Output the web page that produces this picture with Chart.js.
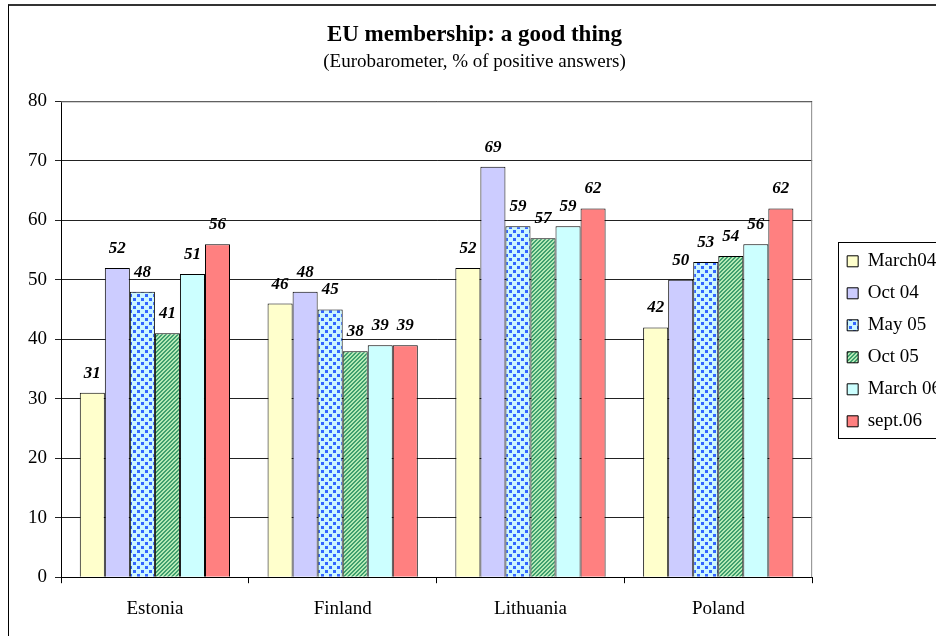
<!DOCTYPE html>
<html>
<head>
<meta charset="utf-8">
<script src="https://cdn.jsdelivr.net/npm/chart.js@4.4.1/dist/chart.umd.min.js"></script>
<style>
    html, body { margin: 0; padding: 0; background: #fff; overflow: hidden; }
    #frame { position: absolute; left: 8px; top: 4px; width: 980px; height: 700px;
             border-left: 1px solid #000; border-top: 2px solid #333; }
    #wrap { position: absolute; left: 0; top: 0; width: 940px; height: 660px; }
</style>
</head>
<body>
<div id="frame"><div id="wrap"><canvas id="chart"></canvas></div></div>
<script>
const countries = ['Estonia', 'Finland', 'Lithuania', 'Poland'];
const surveys = ['March04', 'Oct 04', 'May 05', 'Oct 05', 'March 06', 'sept.06'];
const march04 = [31, 46, 52, 42];
const oct04 = [52, 48, 69, 50];
const may05 = [48, 45, 59, 53];
const oct05 = [41, 38, 57, 54];
const march06 = [51, 39, 59, 56];
const sept06 = [56, 39, 62, 62];
const yMin = 0, yMax = 80, yStep = 10;

const serif = '"Liberation Serif", "Times New Roman", serif';
Chart.defaults.font.family = serif;
Chart.defaults.color = '#000';

// blue dots for May 05
function dotPattern() {
    const c = document.createElement('canvas');
    c.width = 8; c.height = 8;
    const g = c.getContext('2d');
    g.fillStyle = '#ccf6ff';
    g.fillRect(0, 0, 8, 8);
    g.fillStyle = '#3366ff';
    g.fillRect(0, 0, 3, 3);
    g.fillRect(4, 4, 3, 3);
    return g.createPattern(c, 'repeat');
}

// green diagonal stripes for Oct 05
function stripePattern() {
    const c = document.createElement('canvas');
    c.width = 4; c.height = 4;
    const g = c.getContext('2d');
    for (let x = 0; x < 4; x++) {
        for (let y = 0; y < 4; y++) {
            g.fillStyle = (x + y) % 4 < 2 ? '#3f9f6f' : '#b4eab4';
            g.fillRect(x, y, 1, 1);
        }
    }
    return g.createPattern(c, 'repeat');
}

const fills = ['#ffffcc', '#ccccff', dotPattern(), stripePattern(), '#ccffff', '#ff8080'];
const seriesValues = [march04, oct04, may05, oct05, march06, sept06];

const valueLabels = {
    id: 'valueLabels',
    afterDatasetsDraw(chart) {
        const ctx = chart.ctx;
        ctx.save();
        ctx.font = 'italic bold 17px ' + serif;
        ctx.fillStyle = '#000';
        ctx.textAlign = 'center';
        ctx.textBaseline = 'bottom';
        chart.data.datasets.forEach((ds, i) => {
            chart.getDatasetMeta(i).data.forEach((bar, j) => {
                ctx.fillText(ds.data[j], bar.x, bar.y - 11);
            });
        });
        ctx.restore();
    }
};

const boxes = {
    id: 'boxes',
    afterLayout(chart) {
        // move the legend a bit away from the plot and centre it on the plot
        const lg = chart.legend, a = chart.chartArea;
        const h = lg.bottom - lg.top;
        const mid = (a.top + a.bottom) / 2 + 2;
        lg.left += 22;
        lg.right += 22;
        lg.top = mid - h / 2;
        lg.bottom = mid + h / 2;
    },
    beforeDatasetsDraw(chart) {
        const a = chart.chartArea, ctx = chart.ctx;
        ctx.save();
        ctx.strokeStyle = '#888';
        ctx.lineWidth = 1;
        ctx.beginPath();
        ctx.moveTo(a.left, a.top + 0.5);
        ctx.lineTo(a.right - 0.5, a.top + 0.5);
        ctx.lineTo(a.right - 0.5, a.bottom);
        ctx.stroke();
        ctx.restore();
    },
    afterDraw(chart) {
        const hb = chart.legend.legendHitBoxes;
        if (!hb || !hb.length) return;
        const ctx = chart.ctx;
        const first = hb[0], last = hb[hb.length - 1];
        const top = Math.round(first.top - 10);
        const bottom = Math.round(last.top + last.height + 7);
        ctx.save();
        ctx.strokeStyle = '#000';
        ctx.lineWidth = 1;
        ctx.strokeRect(Math.round(first.left - 9) + 0.5, top + 0.5, 200, bottom - top);
        ctx.restore();
    }
};

new Chart(document.getElementById('chart'), {
    type: 'bar',
    data: {
        labels: countries,
        datasets: surveys.map((s, i) => ({
            label: s,
            data: seriesValues[i],
            backgroundColor: fills[i],
            borderColor: '#000',
            borderWidth: 1,
            categoryPercentage: 0.8,
            barPercentage: 1.0
        }))
    },
    options: {
        responsive: true,
        maintainAspectRatio: false,
        animation: false,
        layout: { padding: { left: 11, right: 20, top: 0, bottom: 32 } },
        plugins: {
            title: {
                display: true,
                text: 'EU membership: a good thing',
                font: { size: 23, weight: 'bold', family: serif },
                color: '#000',
                padding: { top: 15, bottom: 2 }
            },
            subtitle: {
                display: true,
                text: '(Eurobarometer, % of positive answers)',
                font: { size: 19, family: serif },
                color: '#000',
                padding: { top: 0, bottom: 28 }
            },
            legend: {
                position: 'right',
                labels: {
                    boxWidth: 11,
                    boxHeight: 11,
                    padding: 13,
                    font: { size: 19, family: serif },
                    color: '#000'
                }
            },
            tooltip: { enabled: false }
        },
        scales: {
            x: {
                grid: { drawOnChartArea: false, drawTicks: true, tickLength: 6, color: '#000' },
                border: { color: '#000' },
                ticks: { font: { size: 19 }, padding: 14, color: '#000' }
            },
            y: {
                min: yMin,
                max: yMax,
                grid: { color: '#222', tickLength: 6 },
                border: { color: '#000' },
                ticks: { stepSize: yStep, font: { size: 19 }, padding: 8, color: '#000' }
            }
        }
    },
    plugins: [valueLabels, boxes]
});
</script>
</body>
</html>
